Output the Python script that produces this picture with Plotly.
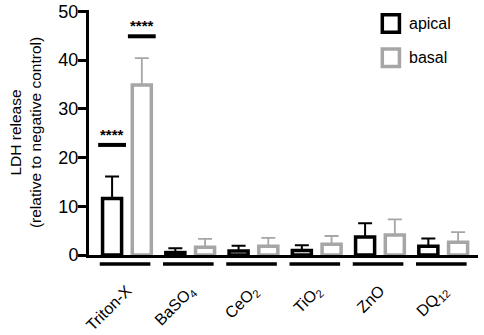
import plotly.graph_objects as go

categories = ["Triton-X", "BaSO<sub>4</sub>", "CeO<sub>2</sub>", "TiO<sub>2</sub>", "ZnO", "DQ<sub>12</sub>"]
apical = [11.6, 0.5, 0.8, 0.9, 3.7, 1.8]
apical_err = [4.5, 0.9, 1.1, 1.1, 2.8, 1.6]
basal = [34.9, 1.6, 1.8, 2.2, 4.1, 2.6]
basal_err = [5.5, 1.7, 1.7, 1.7, 3.2, 2.1]
series_names = ["apical", "basal"]
sig_label = ["****", "****"]
sig_y = [22.6, 44.9]

BLACK = "#000000"
GRAY = "#a6a6a6"
FONT = "Arial, Liberation Sans, sans-serif"

fig = go.Figure()
fig.add_trace(go.Bar(
    x=categories, y=apical, name=series_names[0], showlegend=False,
    marker=dict(color="white", line=dict(color=BLACK, width=3.5)),
    error_y=dict(type="data", array=apical_err, arrayminus=[0]*6, symmetric=False,
                 color=BLACK, thickness=2, width=7),
))
fig.add_trace(go.Bar(
    x=categories, y=basal, name=series_names[1], showlegend=False,
    marker=dict(color="white", line=dict(color=GRAY, width=3.5)),
    error_y=dict(type="data", array=basal_err, arrayminus=[0]*6, symmetric=False,
                 color=GRAY, thickness=1.8, width=7),
))

xr = [-0.6, 5.55]
# significance bars over Triton-X
offsets = [-0.235, 0.235]
for off, yv, lab in zip(offsets, sig_y, sig_label):
    fig.add_shape(type="line", xref="x", yref="y", x0=off - 0.22, x1=off + 0.22,
                  y0=yv, y1=yv, line=dict(color=BLACK, width=4))
    fig.add_annotation(x=off, y=yv, xref="x", yref="y", text="<b>" + lab + "</b>",
                       showarrow=False, yanchor="bottom", yshift=0,
                       font=dict(family=FONT, size=15, color=BLACK))

# group underlines below axis
for i in range(len(categories)):
    x0 = (i - 0.43 - xr[0]) / (xr[1] - xr[0])
    x1 = (i + 0.37 - xr[0]) / (xr[1] - xr[0])
    fig.add_shape(type="line", xref="paper", yref="paper", x0=x0, x1=x1,
                  y0=-0.037, y1=-0.037, line=dict(color=BLACK, width=3.5))

# legend (boxes + labels)
for k, (nm, col) in enumerate(zip(series_names, [BLACK, GRAY])):
    yc = 0.945 - k * 0.14
    fig.add_shape(type="rect", xref="paper", yref="paper",
                  x0=0.754, x1=0.798, y0=yc - 0.036, y1=yc + 0.036,
                  line=dict(color=col, width=3.5), fillcolor="white")
    fig.add_annotation(x=0.818, y=yc, xref="paper", yref="paper", text=nm,
                       showarrow=False, xanchor="left", yanchor="middle",
                       font=dict(family=FONT, size=16, color=BLACK))

fig.update_layout(
    width=484, height=335,
    margin=dict(l=89, r=6, t=10, b=80),
    plot_bgcolor="white", paper_bgcolor="white",
    barmode="group", bargap=0.06, bargroupgap=0.36,
    font=dict(family=FONT, size=15, color=BLACK),
    xaxis=dict(range=xr, showline=True, linecolor=BLACK, linewidth=3, automargin=False,
               ticks="", tickangle=-45, ticklabelstandoff=17, ticklabeloverflow="allow",
               tickfont=dict(family=FONT, size=16, color=BLACK)),
    yaxis=dict(range=[0, 50.3], showline=True, linecolor=BLACK, linewidth=3, automargin=False,
               ticks="outside", ticklen=8, tickwidth=2.5, tickcolor=BLACK,
               tickvals=[0, 10, 20, 30, 40, 50], showgrid=False, zeroline=False,
               ticklabelstandoff=-4,
               tickfont=dict(family=FONT, size=18, color=BLACK),
               title=dict(text="LDH release<br>(relative to negative control)",
                          font=dict(family=FONT, size=15.5, color=BLACK), standoff=13)),
)

fig.write_html("out.html", config={"displayModeBar": False},
               post_script="document.body.style.margin='0px';")
